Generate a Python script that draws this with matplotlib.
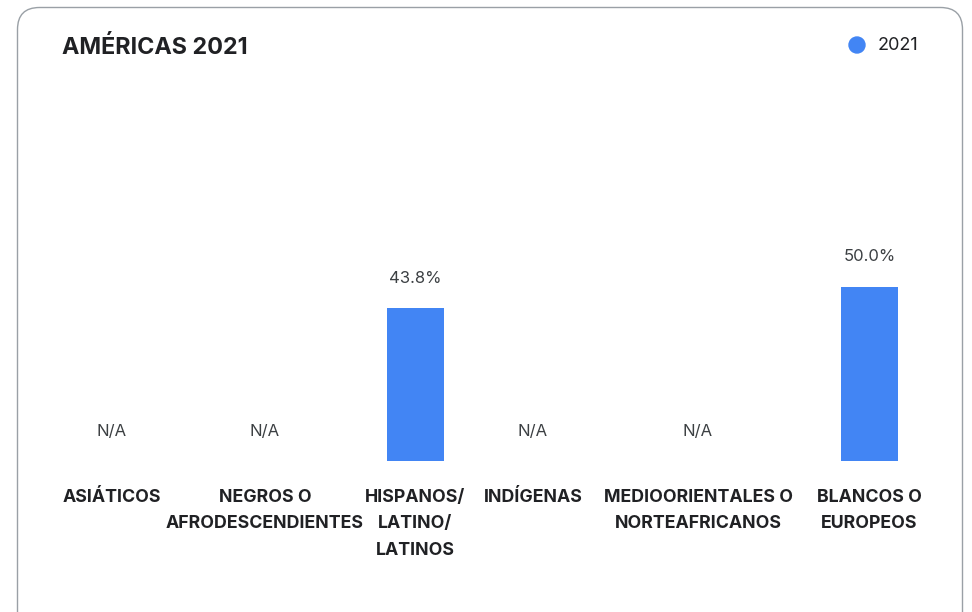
import matplotlib.pyplot as plt
import numpy as np
from matplotlib.patches import FancyBboxPatch, Circle
from matplotlib.transforms import IdentityTransform

plt.rcParams['font.family'] = ['Inter', 'DejaVu Sans']

# Share of each group (NaN = not available)
categories = ["ASIÁTICOS", "NEGROS O\nAFRODESCENDIENTES", "HISPANOS/\nLATINO/\nLATINOS",
              "INDÍGENAS", "MEDIOORIENTALES O\nNORTEAFRICANOS", "BLANCOS O\nEUROPEOS"]
values_2021 = [np.nan, np.nan, 43.8, np.nan, np.nan, 50.0]
series_name = "2021"
title = "AMÉRICAS 2021"

blue = "#4285F4"
text_col = "#202124"
W, H = 972, 612

fig = plt.figure(figsize=(W / 100, H / 100), dpi=100)
fig.patch.set_facecolor("white")

# rounded card outline (pixel coords, bottom edge runs off the canvas)
card = FancyBboxPatch((17.5, -30), 945, H - 7.5 + 30, boxstyle="round,pad=0,rounding_size=22",
                      transform=IdentityTransform(), facecolor="none", edgecolor="#9aa0a6",
                      linewidth=1.0, zorder=0)
fig.add_artist(card)

# axes: x in pixel columns, y in percent; 0% sits at pixel row 461
px_per_pct = 3.49
base = 461
ax = fig.add_axes([0, (H - base) / H, 1, 100 * px_per_pct / H])
ax.set_xlim(0, W)
ax.set_ylim(0, 100)
ax.axis("off")

xpos = np.array([112, 265, 415, 533, 698, 869.5])
bar_w = 57

vals = np.array(values_2021, dtype=float)
ax.bar(xpos, np.nan_to_num(vals), width=bar_w, color=blue, zorder=2)

for x, v, lab in zip(xpos, vals, categories):
    if np.isnan(v):
        ax.annotate("N/A", (x, 0), xytext=(0, 30 * 0.72), textcoords="offset points",
                    ha="center", va="center", fontsize=12, color="#3c4043")
    else:
        ax.annotate(f"{v:.1f}%", (x, v), xytext=(0, 30 * 0.72), textcoords="offset points",
                    ha="center", va="center", fontsize=12, color="#3c4043")
    ax.annotate(lab, (x, 0), xytext=(0, -28 * 0.72), textcoords="offset points",
                ha="center", va="top", fontsize=12.8, fontweight="bold", color=text_col,
                linespacing=1.72, multialignment="center")

fig.text(62 / W, 1 - 47 / H, title, ha="left", va="center", fontsize=16.8,
         fontweight="bold", color=text_col)

# legend
fig.add_artist(Circle((857, H - 45), 8, transform=IdentityTransform(), color=blue))
fig.text(878 / W, 1 - 45 / H, series_name, ha="left", va="center", fontsize=13,
         color=text_col)

fig.savefig("out.png", dpi=100)
